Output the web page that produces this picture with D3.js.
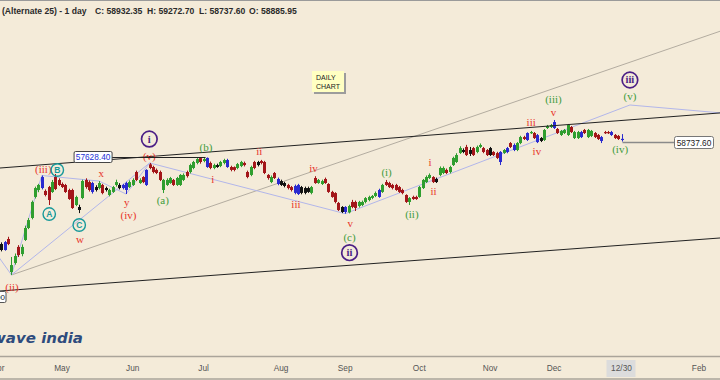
<!DOCTYPE html>
<html><head><meta charset="utf-8">
<script src="https://cdn.jsdelivr.net/npm/d3@7"></script>
<style>html,body{margin:0;padding:0;background:#f4ebd9;}svg{display:block}</style>
</head><body><svg id="c" width="720" height="380"></svg>
<script>
// ---------- DATA ----------
const dates = ["04-01","04-02","04-03","04-04","04-07","04-08","04-09","04-11","04-15","04-16","04-17","04-21","04-22","04-23","04-24","04-25","04-28","04-29","04-30",
"05-02","05-05","05-06","05-07","05-08","05-09","05-12","05-13","05-14","05-15","05-16","05-19","05-20","05-21","05-22","05-23","05-26","05-27","05-28","05-29","05-30",
"06-02","06-03","06-04","06-05","06-06","06-09","06-10","06-11","06-12","06-13","06-16","06-17","06-18","06-19","06-20","06-23","06-24","06-25","06-26","06-27","06-30",
"07-01","07-02","07-03","07-04","07-07","07-08","07-09","07-10","07-11","07-14","07-15","07-16","07-17","07-18","07-21","07-22","07-23","07-24","07-25","07-28","07-29","07-30","07-31",
"08-01","08-04","08-05","08-06","08-07","08-08","08-11","08-12","08-13","08-14","08-18","08-19","08-20","08-21","08-22","08-25","08-26","08-28","08-29",
"09-01","09-02","09-03","09-04","09-05","09-08","09-09","09-10","09-11","09-12","09-15","09-16","09-17","09-18","09-19","09-22","09-23","09-24","09-25","09-26","09-29","09-30",
"10-01","10-03","10-06","10-07","10-08","10-09","10-10","10-13","10-14","10-15","10-16","10-17","10-20","10-21","10-23","10-24","10-27","10-28","10-29","10-30","10-31",
"11-03","11-04","11-06","11-07","11-10","11-11","11-12","11-13","11-14","11-17","11-18","11-19","11-20","11-21","11-24","11-25","11-26","11-27","11-28",
"12-01","12-02","12-03","12-04","12-05","12-08","12-09","12-10","12-11","12-12","12-15","12-16","12-17","12-18","12-19","12-22","12-23","12-24","12-26","12-29","12-30"];

// [open, high, low, close] per trading day
const ohlc = [
[51310,51450,50900,51020],[51380,51500,50850,50950],[50950,51600,50900,51520],[51740,51900,51300,51380],[49370,50450,49157,49870],
[50020,50700,49900,50520],[51170,51300,50450,50590],[50660,51350,50500,51170],[51670,52700,51600,52530],[52530,53250,52450,53100],
[53250,54500,53150,54400],[54760,55500,54650,55400],[55260,55700,55100,55620],[55400,56300,55300,56190],[55190,55300,54800,54900],
[55470,55550,54180,54540],[55115,55980,55050,55833],[56192,56407,55250,55330],[55977,56100,55550,55618],[55689,55800,55400,55474],
[55618,55700,55050,55115],[55259,55350,54550,54612],[55259,55350,53900,53966],[54182,54850,54100,54756],[54038,54200,53600,53823],
[54684,56000,54600,55905],[55980,56100,55350,55470],[55830,55950,55150,55260],[55120,55850,55000,55760],[55470,55600,55150,55260],
[55400,55900,55300,55760],[55620,55700,54950,55040],[55400,55500,55150,55260],[54900,55350,54800,55260],[55120,55550,55050,55470],
[55620,56000,55500,55830],[55620,55750,55300,55400],[55400,55700,55300,55620],[55260,55850,54970,55760],[55470,55950,55400,55830],
[55620,56100,55550,55980],[56550,56650,55900,55980],[55760,56100,55700,55980],[56190,56250,55750,55830],[55620,56750,55550,56700],
[57100,57200,56750,56840],[56910,57000,56450,56550],[56700,56800,56400,56480],[56550,56650,55900,55980],[55260,56050,55040,55980],
[55620,56100,55550,55980],[55760,56200,55700,56120],[55980,56050,55550,55620],[55620,56200,55550,56120],[55620,56400,55550,56340],
[55980,56450,55900,56340],[56550,56650,56150,56260],[56550,57150,56450,57050],[56840,57350,56750,57270],[57200,57550,57100,57480],
[57550,57600,57150,57270],[57340,57628.4,57250,57480],[57560,57600,56850,56910],[57200,57300,56750,56840],[56840,57150,56750,57050],
[57050,57150,56850,56910],[56980,57350,56900,57270],[57200,57500,57100,57410],[57410,57500,56850,56910],[56910,57000,56600,56700],
[56900,56950,56600,56700],[56840,57200,56750,57120],[56980,57350,56900,57270],[57200,57300,56950,57050],[56550,56650,56100,56190],
[56340,57000,56250,56910],[57270,57350,56750,56840],[57270,57350,56950,57050],[57340,57420,57100,57200],[57270,57350,56400,56480],
[56340,56400,56000,56120],[55830,56300,55750,56190],[56480,56550,56050,56120],[55690,56150,55600,56050],[55900,56000,55550,55620],
[55760,55850,55450,55550],[55620,55700,55300,55400],[55470,55550,55150,55260],[55050,55650,54950,55550],[55620,55700,54900,54970],
[55470,55550,54950,55050],[55050,55500,54950,55400],[55400,55500,55050,55120],[55050,55550,54950,55470],[56120,56250,55700,55760],
[55760,56050,55700,55980],[55690,56000,55620,55900],[56050,56150,55700,55760],[55690,55750,55050,55120],[55120,55200,54700,54760],
[55040,55100,54300,54400],[54330,54400,53750,53820],[54040,54100,53600,53680],[53680,54100,53560,54040],[53650,54200,53580,54110],
[54400,54550,53950,54040],[54400,54500,53750,53970],[54110,54480,54000,54400],[54180,54500,54100,54400],[54400,54750,54300,54680],
[54540,54850,54450,54760],[54690,54900,54600,54830],[54830,55150,54750,55040],[54760,55350,54700,55260],[55120,55700,55050,55620],
[55830,55980,55550,55620],[55760,55850,55400,55470],[55620,55700,55300,55400],[55620,55700,55200,55260],[55470,55550,55050,55120],
[55260,55350,54950,55040],[54900,54950,54330,54400],[54400,54750,54180,54680],[54760,54850,54550,54610],[54760,54850,54550,54610],
[54760,55550,54700,55470],[55400,56050,55330,55980],[55830,56300,55760,56190],[56120,56450,56050,56340],[56190,56250,55760,55830],
[56050,56150,55760,55830],[56340,56950,56250,56840],[56480,56950,56400,56840],[56700,56800,56400,56480],[56550,57000,56450,56910],
[57050,57650,56980,57560],[57270,57900,57200,57770],[57920,58400,57850,58270],[58130,58250,57900,57990],[58350,58500,57700,57770],
[57850,58350,57700,58130],[58270,58350,57700,57770],[57990,58450,57900,58350],[58350,58600,58270,58490],[58270,58350,57900,57990],
[58130,58200,57700,57770],[58270,58350,57700,57770],[57990,58050,57700,57770],[57910,58000,57480,57560],[57270,58050,57050,57990],
[57920,58200,57850,58130],[57990,58350,57900,58270],[58630,58700,58270,58350],[58130,58600,58050,58490],[58130,58700,58050,58630],
[58630,59150,58550,59060],[59060,59150,58850,58920],[58850,59400,58780,59350],[59350,59500,59280,59420],[59350,59420,58920,58990],
[59200,59280,58630,58700],[58990,59060,58700,58780],[58850,59640,58780,59570],[59710,59930,59640,59850],[59780,60000,59710,59920],
[59710,60285,59640,60140],[59640,59710,59280,59350],[59210,59570,59140,59500],[59350,59640,59280,59570],[59210,60000,59140,59930],
[59780,59850,59350,59420],[58990,59500,58920,59420],[58990,59500,58920,59420],[59420,59500,58990,59060],[59570,59640,59280,59350],
[59060,59640,58990,59570],[59140,59570,59060,59500],[59350,59420,58990,59060],[59210,59280,58850,58920],[58780,59140,58630,59060],
[59420,59500,59280,59350],[59420,59500,59280,59350],[59420,59500,59140,59210],[59210,59280,58920,58990],[59140,59210,58850,58920],
[58885.95,59272.70,58737.60,58932.35]];

const blueBars  = [2,13,28,37,38,44,62,68,83,88,89,103,113,149,151,153,157,160,165,173,179,182,185];
const blackBars = [1,24,29,32,36,65,77,84,85,90,91,92,102,130,138,140,146,161];

const tickLabels = ["Apr","May","Jun","Jul","Aug","Sep","Oct","Nov","Dec","12/30","Feb"];
const tickIndex  = [0,19,40,61,84,103,125,146,165,185,208];

// wave labels: text, bar index, price, degree
const waveText = ["(ii)","(iii)","x","w","y","(iv)","(v)","i","ii","iii","iv","v","i","ii","iii","iv","v",
                  "(a)","(b)","(c)","(i)","(ii)","(iii)","(v)","(iv)",
                  "B","A","C",
                  "i","ii","iii"];
const waveIdx  = [4.15,13.45,30.6,24.3,38.2,38.7,44.9,63.7,77.5,88.4,93.6,104.5,128.2,129.2,158.2,159.9,164.8,
                  48.9,61.7,104.3,115.3,122.8,164.8,187.5,184.6,
                  17.6,15.2,24.1,
                  44.9,104.3,187.5];
const waveVal  = [48294,56695,56408,51740,54347,53413,57650,55977,58009,54182,56817,52868,57219,55137,60091,58009,60809,
                  54469,58325,51863,56530,53514,61771,61958,58181,
                  56695,53535,52746,
                  58920,50757,63157];
const waveDeg  = ["sub","sub","sub","sub","sub","sub","sub","sub","sub","sub","sub","sub","sub","sub","sub","sub","sub",
                  "minute","minute","minute","minute","minute","minute","minute","minute",
                  "abc","abc","abc",
                  "minor","minor","minor"];

// trend / channel lines: [bar index, price]
const upperChannel = [[0,56827],[214.8,60802]];
const lowerChannel = [[0,47996],[214.8,51823]];
const outerLine    = [[4,49157],[214.8,66704]];
const waveLines = [
  [[-2,51200],[4,49157],[13,56300]],
  [[13,56300],[30,55900],[38,54970],[45,57200]],
  [[4,49157],[45,57200]],
  [[45,57200],[103,53560],[187.5,61362],[214.8,60787]]
];

// ---------- DRAW ----------
const svg = d3.select("#c");
const W = 720, H = 380, axisY = 356.5;
const x = d3.scaleLinear().domain([0, 185]).range([-2, 621.5]);
const y = d3.scaleLinear().domain([43268, 68901]).range([357, 0]);

svg.append("rect").attr("width", W).attr("height", H).attr("fill", "#f4ebd9");
svg.append("defs").append("clipPath").attr("id","plot")
  .append("rect").attr("x",0).attr("y",2).attr("width",W).attr("height",axisY-2);
const plot = svg.append("g").attr("clip-path","url(#plot)");

const line = d3.line().x(d => x(d[0])).y(d => y(d[1]));

plot.append("path").attr("d", line(outerLine)).attr("fill","none")
  .attr("stroke","#b3aca0").attr("stroke-width",1);
waveLines.forEach(l => plot.append("path").attr("d", line(l)).attr("fill","none")
  .attr("stroke","#b2b6ea").attr("stroke-width",1));

const colorOf = i => blueBars.includes(i) ? "#2a2ad0" : blackBars.includes(i) ? "#111" :
  (ohlc[i][3] >= ohlc[i][0] ? "#2f9e2f" : "#a3161a");
const bars = plot.append("g").selectAll("g").data(ohlc).join("g");
bars.append("line")
  .attr("x1",(d,i)=>Math.round(x(i))+0.5).attr("x2",(d,i)=>Math.round(x(i))+0.5)
  .attr("y1",d=>y(d[1])).attr("y2",d=>y(d[2]))
  .attr("stroke",(d,i)=>colorOf(i)).attr("stroke-width",1);
bars.append("rect")
  .attr("x",(d,i)=>Math.round(x(i))+0.5-1.5).attr("width",3)
  .attr("y",d=>y(Math.max(d[0],d[3])))
  .attr("height",d=>Math.max(1.2, Math.abs(y(d[0])-y(d[3]))))
  .attr("fill",(d,i)=>colorOf(i));

plot.append("path").attr("d", line(upperChannel)).attr("fill","none").attr("stroke","#222").attr("stroke-width",1);
plot.append("path").attr("d", line(lowerChannel)).attr("fill","none").attr("stroke","#222").attr("stroke-width",1);

// wave labels
const serif = "'Liberation Serif','DejaVu Serif',serif";
const labelColor = {sub:"#e8352b", minute:"#3f9b3c", abc:"#18999a", minor:"#4b1f86"};
waveText.forEach((t,k) => {
  const cx = x(waveIdx[k]), cy = y(waveVal[k]), deg = waveDeg[k], c = labelColor[deg];
  if (deg === "abc") {
    svg.append("circle").attr("cx",cx).attr("cy",cy).attr("r",6.2).attr("fill","none").attr("stroke",c).attr("stroke-width",1.4);
    svg.append("text").attr("x",cx).attr("y",cy+3).attr("text-anchor","middle")
      .attr("font-family","'Liberation Sans',Arial,sans-serif").attr("font-weight","bold").attr("font-size",8.5).attr("fill",c).text(t);
  } else if (deg === "minor") {
    svg.append("circle").attr("cx",cx).attr("cy",cy).attr("r",7.8).attr("fill","none").attr("stroke",c).attr("stroke-width",1.7);
    svg.append("text").attr("x",cx).attr("y",cy+3.5).attr("text-anchor","middle")
      .attr("font-family",serif).attr("font-weight","bold").attr("font-size",10.5).attr("fill",c).text(t);
  } else {
    svg.append("text").attr("x",cx).attr("y",cy+3.5).attr("text-anchor","middle")
      .attr("font-family",serif).attr("font-size",11).attr("fill",c).text(t);
  }
});

// price marker boxes
const fmt = v => v.toFixed(2);
const hiIdx = d3.maxIndex(ohlc.slice(0,100), d => d[1]);
const hiVal = ohlc[hiIdx][1];
const hy = Math.round(y(hiVal)) + 0.5;
svg.append("line").attr("x1", x(hiIdx) - 92).attr("x2", x(hiIdx) + 2).attr("y1", hy).attr("y2", hy)
  .attr("stroke","#222").attr("stroke-width",1);
svg.append("rect").attr("x", x(hiIdx) - 129.5).attr("y", hy - 6).attr("width", 38).attr("height", 11)
  .attr("rx",1.5).attr("fill","#fff").attr("stroke","#444").attr("stroke-width",1);
svg.append("text").attr("x", x(hiIdx) - 110.5).attr("y", hy + 2.7).attr("text-anchor","middle")
  .attr("font-family","'Liberation Sans',Arial,sans-serif").attr("font-size",8.3).attr("fill","#2332d6").text(fmt(hiVal));

const last = ohlc.length - 1, lowY = Math.round(y(ohlc[last][2])) + 0.5;
svg.append("line").attr("x1", x(last) + 1).attr("x2", 674).attr("y1", lowY).attr("y2", lowY)
  .attr("stroke","#8a8a8a").attr("stroke-width",1.5);
svg.append("rect").attr("x", 674.5).attr("y", lowY - 6).attr("width", 39).attr("height", 12)
  .attr("rx",2).attr("fill","#fff").attr("stroke","#777").attr("stroke-width",1);
svg.append("text").attr("x", 694).attr("y", lowY + 3).attr("text-anchor","middle")
  .attr("font-family","'Liberation Sans',Arial,sans-serif").attr("font-size",8.3).attr("fill","#222").text(fmt(ohlc[last][2]));

const loIdx = d3.minIndex(ohlc, d => d[2]), loY = Math.round(y(ohlc[loIdx][2])) + 21.5;
svg.append("rect").attr("x", -34).attr("y", loY - 5).attr("width", 40).attr("height", 11)
  .attr("rx",1.5).attr("fill","#fff").attr("stroke","#555").attr("stroke-width",1);
svg.append("text").attr("x", 5).attr("y", loY + 3).attr("text-anchor","end")
  .attr("font-family","'Liberation Sans',Arial,sans-serif").attr("font-size",8).attr("fill","#222").text(fmt(ohlc[loIdx][2]));

// DAILY CHART note
svg.append("rect").attr("x",314).attr("y",73).attr("width",32).attr("height",21).attr("fill","#9c9c9c");
svg.append("rect").attr("x",312).attr("y",71).attr("width",32).attr("height",21).attr("fill","#ffffc2");
svg.append("text").attr("x",316).attr("y",79.5).attr("font-family","'Liberation Sans',Arial,sans-serif").attr("font-size",7).attr("fill","#222").text("DAILY");
svg.append("text").attr("x",316).attr("y",88.5).attr("font-family","'Liberation Sans',Arial,sans-serif").attr("font-size",7).attr("fill","#222").text("CHART");

// header
svg.append("line").attr("x1",0).attr("x2",W).attr("y1",0.5).attr("y2",0.5).attr("stroke","#9a9a9a");
const hdr = ["(Alternate 25) - 1 day", "C: " + fmt(ohlc[last][3]), "H: " + fmt(ohlc[last][1]), "L: " + fmt(ohlc[last][2]), "O: " + fmt(ohlc[last][0])];
const hdrX = [2, 95, 147, 199, 249];
hdr.forEach((t,k) => svg.append("text").attr("x",hdrX[k]).attr("y",13.5)
  .attr("font-family","'Liberation Sans',Arial,sans-serif").attr("font-weight","bold").attr("font-size",8.6).attr("fill","#2a2a2a").text(t));

// logo
svg.append("text").attr("x",-8).attr("y",343).attr("font-family","'DejaVu Sans',sans-serif").attr("font-weight","bold")
  .attr("font-style","italic").attr("font-size",14).attr("fill","#2e4b7d")
  .attr("textLength",91).attr("lengthAdjust","spacingAndGlyphs").text("wave india");

// axis
svg.append("line").attr("x1",0).attr("x2",W).attr("y1",axisY).attr("y2",axisY).attr("stroke","#aaa49a").attr("stroke-width",1.5);
svg.append("line").attr("x1",0).attr("x2",W).attr("y1",379).attr("y2",379).attr("stroke","#aaa49a").attr("stroke-width",1.5);
tickLabels.forEach((t,k) => {
  const tx = x(tickIndex[k]);
  if (t.includes("/")) {
    svg.append("rect").attr("x", tx - 15).attr("y", 360).attr("width", 29).attr("height", 17).attr("fill","#dcdcdc");
  }
  svg.append("text").attr("x", tx).attr("y", 371).attr("text-anchor","middle")
    .attr("font-family","'Liberation Sans',Arial,sans-serif").attr("font-size",8.3).attr("fill","#555").text(t);
});
</script></body></html>
